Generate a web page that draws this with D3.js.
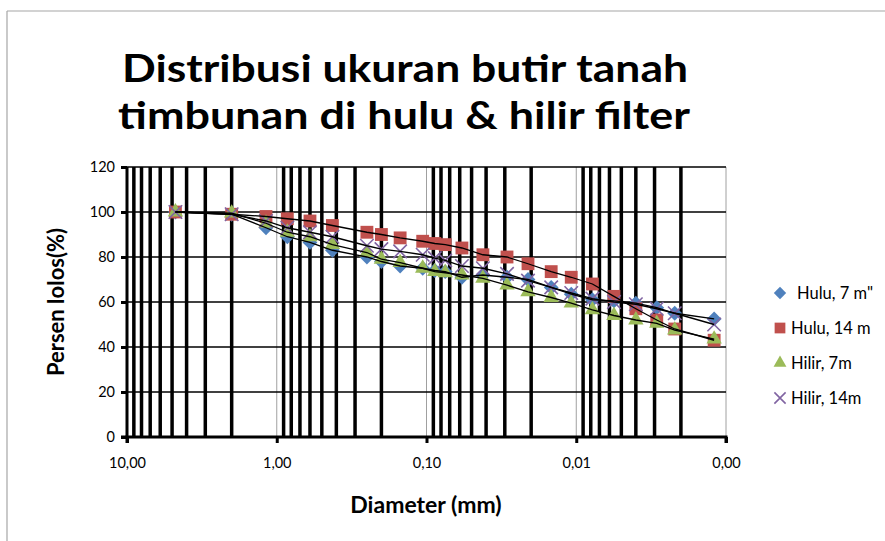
<!DOCTYPE html>
<html lang="en">
<head>
<meta charset="utf-8">
<title>Distribusi ukuran butir tanah</title>
<script src="https://d3js.org/d3.v7.min.js"></script>
<style>
  body { margin: 0; background: #fff; }
  text { font-family: Lato, "Open Sans", sans-serif; }
</style>
</head>
<body>
<div id="chart"></div>
<script>
// diameters (mm) and percent passing per series
const diameters = [4.75, 2.0, 1.18, 0.85, 0.6, 0.425, 0.25, 0.2, 0.15, 0.106, 0.088, 0.075,
  0.058, 0.042, 0.029, 0.021, 0.0147, 0.0108, 0.0078, 0.0056, 0.004, 0.0029, 0.0022, 0.0012];
const hulu7   = [100, 99, 93, 89, 86.5, 83, 80, 78, 76, 75, 74, 73.5, 71, 72, 71, 70, 66.5, 63.5, 61, 60.5, 59.5, 57.5, 55, 52.5];
const hulu14  = [100, 99, 98, 97, 96, 94, 91, 90, 88.5, 87, 86, 85.5, 84, 81, 80, 77, 73.5, 71, 68, 62.5, 57, 52, 48, 43];
const hilir7  = [100, 99.5, 95, 91, 89, 85.5, 82, 79, 77.5, 75, 73.5, 73, 72, 70.5, 67.5, 64.5, 62, 59.5, 56.5, 54, 52, 50.5, 47.5, 43.5];
const hilir14 = [100, 99, 96, 93, 91, 89, 85, 83.5, 82.5, 81, 79.5, 78.5, 76, 75, 72.5, 69.5, 66.5, 64, 61.5, 60, 59, 57, 55, 50];

const seriesNames = ["Hulu, 7 m\"", "Hulu, 14 m", "Hilir, 7m", "Hilir, 14m"];
const seriesValues = [hulu7, hulu14, hilir7, hilir14];
const xTicks = [10, 1, 0.1, 0.01, 0.001];
const yTicks = [0, 20, 40, 60, 80, 100, 120];

const W = 885, H = 541;
const plot = { left: 127, right: 726, top: 167, bottom: 437 };

const svg = d3.select("#chart").append("svg")
  .attr("width", W).attr("height", H);

// chart frame (top and left edges visible)
svg.append("line").attr("x1", 7).attr("x2", W).attr("y1", 11).attr("y2", 11)
  .attr("stroke", "#a6a6a6").attr("stroke-width", 1.2);
svg.append("line").attr("x1", 7).attr("x2", 7).attr("y1", 11).attr("y2", H)
  .attr("stroke", "#a6a6a6").attr("stroke-width", 1.2);

const x = d3.scaleLog().domain([10, 0.001]).range([plot.left, plot.right]);
const y = d3.scaleLinear().domain([0, 120]).range([plot.bottom, plot.top]);

// title
const title = svg.append("g").attr("font-weight", "bold").attr("font-size", 38).attr("fill", "#000");
title.append("text").attr("x", 122).attr("y", 82)
  .attr("textLength", 566).attr("lengthAdjust", "spacingAndGlyphs")
  .text("Distribusi ukuran butir tanah");
title.append("text").attr("x", 118).attr("y", 129)
  .attr("textLength", 572).attr("lengthAdjust", "spacingAndGlyphs")
  .text("timbunan di hulu & hilir filter");

// minor vertical gridlines (2..9 of each decade)
const minor = [];
for (let e = 1; e > -2.5; e--) {
  for (let k = 2; k <= 9; k++) minor.push(k * Math.pow(10, e - 1));
}
svg.append("g").selectAll("line").data(minor).join("line")
  .attr("x1", d => x(d)).attr("x2", d => x(d))
  .attr("y1", plot.top).attr("y2", plot.bottom)
  .attr("stroke", "#000").attr("stroke-width", 3.5);

// major vertical gridlines
svg.append("g").selectAll("line").data(xTicks.slice(1)).join("line")
  .attr("x1", d => x(d)).attr("x2", d => x(d))
  .attr("y1", plot.top).attr("y2", plot.bottom)
  .attr("stroke", "#a0a0a0").attr("stroke-width", 1);

// horizontal gridlines
svg.append("g").selectAll("line").data(yTicks.slice(1)).join("line")
  .attr("x1", plot.left).attr("x2", plot.right)
  .attr("y1", d => y(d)).attr("y2", d => y(d))
  .attr("stroke", "#000").attr("stroke-width", 1.3);

// axes
const yAxis = svg.append("g").attr("transform", `translate(${plot.left},0)`)
  .call(d3.axisLeft(y).tickValues(yTicks).tickSize(6).tickPadding(6));
const xAxis = svg.append("g").attr("transform", `translate(0,${plot.bottom})`)
  .call(d3.axisBottom(x).tickValues(xTicks).tickSize(6).tickPadding(15)
    .tickFormat(d => d3.format(".2f")(d).replace(".", ",")));
[yAxis, xAxis].forEach(a => {
  a.select(".domain").attr("stroke", "#000").attr("stroke-width", 3);
  a.selectAll(".tick line").attr("stroke", "#000").attr("stroke-width", 3);
  a.selectAll(".tick text").attr("font-family", "Lato, sans-serif")
    .attr("font-size", 14.5).attr("fill", "#000");
});
xAxis.select(".domain").attr("d", `M${plot.left},6V0H${plot.right}V6`);
yAxis.select(".domain").attr("d", `M-6,${plot.bottom}H0V${plot.top}`);

// axis titles
svg.append("text").attr("x", 426).attr("y", 513).attr("text-anchor", "middle")
  .attr("font-weight", "bold").attr("font-size", 23).text("Diameter (mm)");
svg.append("text").attr("transform", "translate(64,302) rotate(-90)")
  .attr("text-anchor", "middle").attr("font-weight", "bold").attr("font-size", 22)
  .text("Persen lolos(%)");

// markers
const colors = ["#4f81bd", "#c0504d", "#9bbb59", "#8064a2"];
const symbols = [d3.symbolDiamond2, d3.symbolSquare2, d3.symbolTriangle2, d3.symbolX];
const sizes = [140, 210, 170, 120];

function drawMarker(g, i, cx, cy, sz) {
  const p = g.append("path")
    .attr("transform", `translate(${cx},${cy})`)
    .attr("d", d3.symbol().type(symbols[i]).size(sz)());
  if (i === 3) p.attr("fill", "none").attr("stroke", colors[i]).attr("stroke-width", 1.6);
  else p.attr("fill", colors[i]);
}

seriesValues.forEach((vals, i) => {
  const g = svg.append("g");
  vals.forEach((v, j) => drawMarker(g, i, x(diameters[j]), y(v), sizes[i]));
});

// black connecting lines
const line = d3.line().x((d, j) => x(diameters[j])).y(d => y(d));
seriesValues.forEach(vals => {
  svg.append("path").datum(vals).attr("d", line)
    .attr("fill", "none").attr("stroke", "#000").attr("stroke-width", 1.3);
});

// legend
const legendY = [293, 328, 363, 398];
seriesNames.forEach((name, i) => {
  const g = svg.append("g");
  drawMarker(g, i, 780, legendY[i], sizes[i] * 0.7);
  g.append("text").attr("x", i === 0 ? 797 : 791).attr("y", legendY[i] + 6)
    .attr("font-size", 16.5).attr("fill", "#000").text(name);
});
</script>
</body>
</html>
